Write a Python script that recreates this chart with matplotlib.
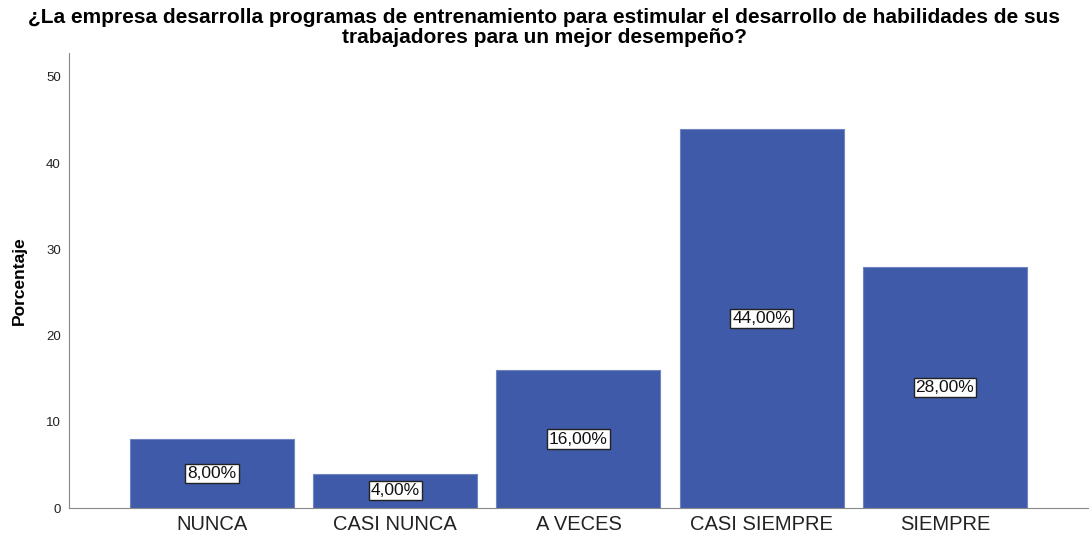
import matplotlib.pyplot as plt
import numpy as np

categories = ['NUNCA', 'CASI NUNCA', 'A VECES', 'CASI SIEMPRE', 'SIEMPRE']
porcentaje = [8.0, 4.0, 16.0, 44.0, 28.0]
y_ticks = [0, 10, 20, 30, 40, 50]

titulo = ('¿La empresa desarrolla programas de entrenamiento para estimular el desarrollo de habilidades de sus\n'
          'trabajadores para un mejor desempeño?')

plt.rcParams['font.family'] = ['Liberation Sans', 'DejaVu Sans']

fig = plt.figure(figsize=(10.89, 5.39), dpi=100)
ax = fig.add_axes([0.0634, 0.0575, 0.9356, 0.8445])

x = np.arange(len(categories))
bars = ax.bar(x, porcentaje, width=0.895, color='#3f5aa8', edgecolor='#6f84c0', linewidth=0.8)

for rect, val in zip(bars, porcentaje):
    ax.text(rect.get_x() + rect.get_width() / 2, val / 2,
            '{:.2f}%'.format(val).replace('.', ','),
            ha='center', va='center', fontsize=12.5, color='#111111',
            bbox=dict(boxstyle='square,pad=0.12', facecolor='white', edgecolor='#222222', linewidth=1))

ax.set_xlim(-0.78, 4.78)
ax.set_ylim(0, 52.8)
ax.set_yticks(y_ticks)
ax.set_xticks(x)
ax.set_xticklabels(categories, fontsize=14.5, color='#222222')
ax.tick_params(axis='y', length=0, labelsize=9.5, pad=6, labelcolor='#222222')
ax.tick_params(axis='x', length=0, pad=5)

ax.spines['top'].set_visible(False)
ax.spines['right'].set_visible(False)
ax.spines['left'].set_color('#888888')
ax.spines['bottom'].set_color('#888888')

ax.set_ylabel('Porcentaje', fontsize=12.5, fontweight='bold', labelpad=14)
fig.suptitle(titulo, fontsize=15, fontweight='bold', y=0.985, linespacing=1.05)

fig.savefig('out.png', dpi=100)
